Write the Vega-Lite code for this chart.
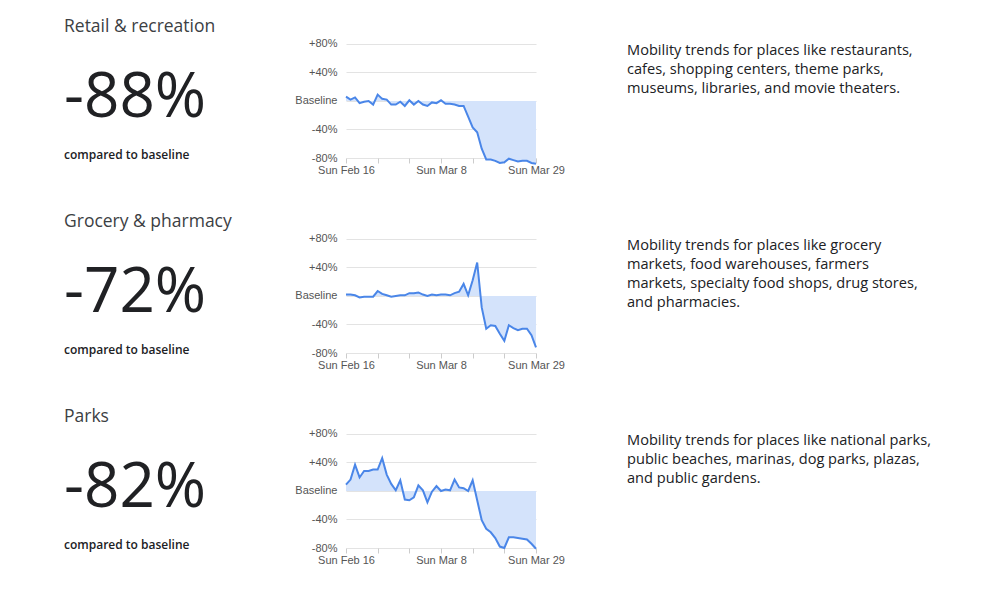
{
  "$schema": "https://vega.github.io/schema/vega-lite/v6.json",
  "background": "white",
  "padding": {"left": 64, "top": 8, "right": 10, "bottom": 10},
  "config": {"view": {"stroke": null}, "font": "Open Sans"},
  "datasets": {
    "summary": [
      {"category": "Retail & recreation", "part": "title", "text": "Retail & recreation"},
      {"category": "Retail & recreation", "part": "number", "text": "-88%"},
      {"category": "Retail & recreation", "part": "caption", "text": "compared to baseline"},
      {"category": "Grocery & pharmacy", "part": "title", "text": "Grocery & pharmacy"},
      {"category": "Grocery & pharmacy", "part": "number", "text": "-72%"},
      {"category": "Grocery & pharmacy", "part": "caption", "text": "compared to baseline"},
      {"category": "Parks", "part": "title", "text": "Parks"},
      {"category": "Parks", "part": "number", "text": "-82%"},
      {"category": "Parks", "part": "caption", "text": "compared to baseline"}
    ],
    "descriptions": [
      {"category": "Retail & recreation", "line": 1, "text": "Mobility trends for places like restaurants,"},
      {"category": "Retail & recreation", "line": 2, "text": "cafes, shopping centers, theme parks,"},
      {"category": "Retail & recreation", "line": 3, "text": "museums, libraries, and movie theaters."},
      {"category": "Grocery & pharmacy", "line": 1, "text": "Mobility trends for places like grocery"},
      {"category": "Grocery & pharmacy", "line": 2, "text": "markets, food warehouses, farmers"},
      {"category": "Grocery & pharmacy", "line": 3, "text": "markets, specialty food shops, drug stores,"},
      {"category": "Grocery & pharmacy", "line": 4, "text": "and pharmacies."},
      {"category": "Parks", "line": 1, "text": "Mobility trends for places like national parks,"},
      {"category": "Parks", "line": 2, "text": "public beaches, marinas, dog parks, plazas,"},
      {"category": "Parks", "line": 3, "text": "and public gardens."}
    ],
    "mobility": [
      {"category": "Retail & recreation", "date": "2020-02-16", "change": 6},
      {"category": "Retail & recreation", "date": "2020-02-17", "change": 2},
      {"category": "Retail & recreation", "date": "2020-02-18", "change": 5},
      {"category": "Retail & recreation", "date": "2020-02-19", "change": -3},
      {"category": "Retail & recreation", "date": "2020-02-20", "change": -1},
      {"category": "Retail & recreation", "date": "2020-02-21", "change": 0},
      {"category": "Retail & recreation", "date": "2020-02-22", "change": -5},
      {"category": "Retail & recreation", "date": "2020-02-23", "change": 9},
      {"category": "Retail & recreation", "date": "2020-02-24", "change": 3},
      {"category": "Retail & recreation", "date": "2020-02-25", "change": 2},
      {"category": "Retail & recreation", "date": "2020-02-26", "change": -5},
      {"category": "Retail & recreation", "date": "2020-02-27", "change": -5},
      {"category": "Retail & recreation", "date": "2020-02-28", "change": -1},
      {"category": "Retail & recreation", "date": "2020-02-29", "change": -7},
      {"category": "Retail & recreation", "date": "2020-03-01", "change": 1},
      {"category": "Retail & recreation", "date": "2020-03-02", "change": -5},
      {"category": "Retail & recreation", "date": "2020-03-03", "change": 0},
      {"category": "Retail & recreation", "date": "2020-03-04", "change": -5},
      {"category": "Retail & recreation", "date": "2020-03-05", "change": -7},
      {"category": "Retail & recreation", "date": "2020-03-06", "change": -2},
      {"category": "Retail & recreation", "date": "2020-03-07", "change": -3},
      {"category": "Retail & recreation", "date": "2020-03-08", "change": 1},
      {"category": "Retail & recreation", "date": "2020-03-09", "change": -4},
      {"category": "Retail & recreation", "date": "2020-03-10", "change": -4},
      {"category": "Retail & recreation", "date": "2020-03-11", "change": -5},
      {"category": "Retail & recreation", "date": "2020-03-12", "change": -7},
      {"category": "Retail & recreation", "date": "2020-03-13", "change": -7},
      {"category": "Retail & recreation", "date": "2020-03-14", "change": -22},
      {"category": "Retail & recreation", "date": "2020-03-15", "change": -37},
      {"category": "Retail & recreation", "date": "2020-03-16", "change": -44},
      {"category": "Retail & recreation", "date": "2020-03-17", "change": -67},
      {"category": "Retail & recreation", "date": "2020-03-18", "change": -82},
      {"category": "Retail & recreation", "date": "2020-03-19", "change": -82},
      {"category": "Retail & recreation", "date": "2020-03-20", "change": -84},
      {"category": "Retail & recreation", "date": "2020-03-21", "change": -87},
      {"category": "Retail & recreation", "date": "2020-03-22", "change": -86},
      {"category": "Retail & recreation", "date": "2020-03-23", "change": -81},
      {"category": "Retail & recreation", "date": "2020-03-24", "change": -83},
      {"category": "Retail & recreation", "date": "2020-03-25", "change": -85},
      {"category": "Retail & recreation", "date": "2020-03-26", "change": -84},
      {"category": "Retail & recreation", "date": "2020-03-27", "change": -84},
      {"category": "Retail & recreation", "date": "2020-03-28", "change": -87},
      {"category": "Retail & recreation", "date": "2020-03-29", "change": -88},
      {"category": "Grocery & pharmacy", "date": "2020-02-16", "change": 2},
      {"category": "Grocery & pharmacy", "date": "2020-02-17", "change": 2},
      {"category": "Grocery & pharmacy", "date": "2020-02-18", "change": 1},
      {"category": "Grocery & pharmacy", "date": "2020-02-19", "change": -2},
      {"category": "Grocery & pharmacy", "date": "2020-02-20", "change": -1},
      {"category": "Grocery & pharmacy", "date": "2020-02-21", "change": -1},
      {"category": "Grocery & pharmacy", "date": "2020-02-22", "change": -1},
      {"category": "Grocery & pharmacy", "date": "2020-02-23", "change": 7},
      {"category": "Grocery & pharmacy", "date": "2020-02-24", "change": 3},
      {"category": "Grocery & pharmacy", "date": "2020-02-25", "change": 1},
      {"category": "Grocery & pharmacy", "date": "2020-02-26", "change": -1},
      {"category": "Grocery & pharmacy", "date": "2020-02-27", "change": 0},
      {"category": "Grocery & pharmacy", "date": "2020-02-28", "change": 1},
      {"category": "Grocery & pharmacy", "date": "2020-02-29", "change": 1},
      {"category": "Grocery & pharmacy", "date": "2020-03-01", "change": 4},
      {"category": "Grocery & pharmacy", "date": "2020-03-02", "change": 4},
      {"category": "Grocery & pharmacy", "date": "2020-03-03", "change": 5},
      {"category": "Grocery & pharmacy", "date": "2020-03-04", "change": 2},
      {"category": "Grocery & pharmacy", "date": "2020-03-05", "change": 0},
      {"category": "Grocery & pharmacy", "date": "2020-03-06", "change": 2},
      {"category": "Grocery & pharmacy", "date": "2020-03-07", "change": 1},
      {"category": "Grocery & pharmacy", "date": "2020-03-08", "change": 2},
      {"category": "Grocery & pharmacy", "date": "2020-03-09", "change": 2},
      {"category": "Grocery & pharmacy", "date": "2020-03-10", "change": 1},
      {"category": "Grocery & pharmacy", "date": "2020-03-11", "change": 4},
      {"category": "Grocery & pharmacy", "date": "2020-03-12", "change": 6},
      {"category": "Grocery & pharmacy", "date": "2020-03-13", "change": 17},
      {"category": "Grocery & pharmacy", "date": "2020-03-14", "change": 1},
      {"category": "Grocery & pharmacy", "date": "2020-03-15", "change": 22},
      {"category": "Grocery & pharmacy", "date": "2020-03-16", "change": 47},
      {"category": "Grocery & pharmacy", "date": "2020-03-17", "change": -16},
      {"category": "Grocery & pharmacy", "date": "2020-03-18", "change": -46},
      {"category": "Grocery & pharmacy", "date": "2020-03-19", "change": -41},
      {"category": "Grocery & pharmacy", "date": "2020-03-20", "change": -42},
      {"category": "Grocery & pharmacy", "date": "2020-03-21", "change": -53},
      {"category": "Grocery & pharmacy", "date": "2020-03-22", "change": -63},
      {"category": "Grocery & pharmacy", "date": "2020-03-23", "change": -41},
      {"category": "Grocery & pharmacy", "date": "2020-03-24", "change": -45},
      {"category": "Grocery & pharmacy", "date": "2020-03-25", "change": -48},
      {"category": "Grocery & pharmacy", "date": "2020-03-26", "change": -46},
      {"category": "Grocery & pharmacy", "date": "2020-03-27", "change": -46},
      {"category": "Grocery & pharmacy", "date": "2020-03-28", "change": -55},
      {"category": "Grocery & pharmacy", "date": "2020-03-29", "change": -72},
      {"category": "Parks", "date": "2020-02-16", "change": 9},
      {"category": "Parks", "date": "2020-02-17", "change": 16},
      {"category": "Parks", "date": "2020-02-18", "change": 37},
      {"category": "Parks", "date": "2020-02-19", "change": 19},
      {"category": "Parks", "date": "2020-02-20", "change": 28},
      {"category": "Parks", "date": "2020-02-21", "change": 28},
      {"category": "Parks", "date": "2020-02-22", "change": 30},
      {"category": "Parks", "date": "2020-02-23", "change": 30},
      {"category": "Parks", "date": "2020-02-24", "change": 46},
      {"category": "Parks", "date": "2020-02-25", "change": 23},
      {"category": "Parks", "date": "2020-02-26", "change": 10},
      {"category": "Parks", "date": "2020-02-27", "change": 1},
      {"category": "Parks", "date": "2020-02-28", "change": 15},
      {"category": "Parks", "date": "2020-02-29", "change": -12},
      {"category": "Parks", "date": "2020-03-01", "change": -13},
      {"category": "Parks", "date": "2020-03-02", "change": -9},
      {"category": "Parks", "date": "2020-03-03", "change": 8},
      {"category": "Parks", "date": "2020-03-04", "change": 1},
      {"category": "Parks", "date": "2020-03-05", "change": -16},
      {"category": "Parks", "date": "2020-03-06", "change": -1},
      {"category": "Parks", "date": "2020-03-07", "change": 7},
      {"category": "Parks", "date": "2020-03-08", "change": 0},
      {"category": "Parks", "date": "2020-03-09", "change": 2},
      {"category": "Parks", "date": "2020-03-10", "change": 1},
      {"category": "Parks", "date": "2020-03-11", "change": 16},
      {"category": "Parks", "date": "2020-03-12", "change": 5},
      {"category": "Parks", "date": "2020-03-13", "change": 4},
      {"category": "Parks", "date": "2020-03-14", "change": 0},
      {"category": "Parks", "date": "2020-03-15", "change": 15},
      {"category": "Parks", "date": "2020-03-16", "change": -13},
      {"category": "Parks", "date": "2020-03-17", "change": -41},
      {"category": "Parks", "date": "2020-03-18", "change": -53},
      {"category": "Parks", "date": "2020-03-19", "change": -58},
      {"category": "Parks", "date": "2020-03-20", "change": -66},
      {"category": "Parks", "date": "2020-03-21", "change": -78},
      {"category": "Parks", "date": "2020-03-22", "change": -80},
      {"category": "Parks", "date": "2020-03-23", "change": -65},
      {"category": "Parks", "date": "2020-03-24", "change": -65},
      {"category": "Parks", "date": "2020-03-25", "change": -66},
      {"category": "Parks", "date": "2020-03-26", "change": -67},
      {"category": "Parks", "date": "2020-03-27", "change": -68},
      {"category": "Parks", "date": "2020-03-28", "change": -74},
      {"category": "Parks", "date": "2020-03-29", "change": -81}
    ]
  },
  "spacing": 62,
  "bounds": "full",
  "hconcat": [
    {
      "data": {"name": "summary"},
      "facet": {"row": {"field": "category", "type": "nominal", "header": null, "sort": ["Retail & recreation", "Grocery & pharmacy", "Parks"]}},
      "spacing": 45,
      "bounds": "flush",
      "spec": {
        "width": 158,
        "height": 150,
        "encoding": {
          "x": {"value": 0},
          "y": {"field": "part", "type": "nominal", "axis": null, "scale": {"type": "point", "domain": ["title", "number", "caption"], "range": [24, 151], "padding": 0}},
          "text": {"field": "text", "type": "nominal"}
        },
        "layer": [
          {"transform": [{"filter": "datum.part == 'title'"}], "mark": {"type": "text", "align": "left", "baseline": "alphabetic", "fontSize": 17.5, "color": "#3c4043"}},
          {"transform": [{"filter": "datum.part == 'number'"}], "mark": {"type": "text", "align": "left", "baseline": "alphabetic", "fontSize": 62, "color": "#202124", "dy": 21}},
          {"transform": [{"filter": "datum.part == 'caption'"}], "mark": {"type": "text", "align": "left", "baseline": "alphabetic", "fontSize": 12, "fontWeight": 600, "color": "#202124"}}
        ]
      }
    },
    {
      "data": {"name": "mobility"},
      "facet": {"row": {"field": "category", "type": "nominal", "header": null, "sort": ["Retail & recreation", "Grocery & pharmacy", "Parks"]}},
      "spacing": 45,
      "bounds": "flush",
      "resolve": {"axis": {"x": "independent", "y": "independent"}},
      "spec": {
        "width": 190,
        "height": 150,
        "encoding": {
          "x": {
            "field": "date", "type": "temporal",
            "scale": {"type": "utc", "nice": false, "domain": [{"year": 2020, "month": 2, "date": 16, "utc": true}, {"year": 2020, "month": 3, "date": 29, "utc": true}]},
            "axis": {
              "title": null, "grid": false, "domain": false, "ticks": true, "tickSize": 5, "tickColor": "#cccccc",
              "values": [
                {"year": 2020, "month": 2, "date": 16, "utc": true},
                {"year": 2020, "month": 2, "date": 23, "utc": true},
                {"year": 2020, "month": 3, "date": 1, "utc": true},
                {"year": 2020, "month": 3, "date": 8, "utc": true},
                {"year": 2020, "month": 3, "date": 15, "utc": true},
                {"year": 2020, "month": 3, "date": 22, "utc": true},
                {"year": 2020, "month": 3, "date": 29, "utc": true}
              ],
              "labelExpr": "(utcdate(datum.value) == 16 || utcdate(datum.value) == 8 || utcdate(datum.value) == 29) ? 'Sun ' + utcFormat(datum.value, '%b %-d') : ''",
              "labelFlush": false, "labelOverlap": false, "labelPadding": 1,
              "labelFont": "Liberation Sans", "labelFontSize": 11, "labelColor": "#555555"
            }
          },
          "y": {
            "field": "change", "type": "quantitative",
            "scale": {"domain": [-80, 130.5], "nice": false, "zero": false},
            "axis": {
              "title": null, "grid": true, "gridColor": "#e3e3e3", "domain": false, "ticks": false,
              "values": [-80, -40, 0, 40, 80],
              "labelExpr": "datum.value == 0 ? 'Baseline' : (datum.value > 0 ? '+' : '') + datum.value + '%'",
              "labelPadding": 9, "labelFont": "Liberation Sans", "labelFontSize": 11, "labelColor": "#555555"
            }
          }
        },
        "layer": [
          {"mark": {"type": "area", "color": "#d4e3fb", "opacity": 1}, "encoding": {"y2": {"datum": 0}}},
          {"mark": {"type": "line", "color": "#4a86e8", "strokeWidth": 2}}
        ]
      }
    },
    {
      "data": {"name": "descriptions"},
      "facet": {"row": {"field": "category", "type": "nominal", "header": null, "sort": ["Retail & recreation", "Grocery & pharmacy", "Parks"]}},
      "spacing": 45,
      "bounds": "flush",
      "spec": {
        "width": 300,
        "height": 150,
        "mark": {"type": "text", "align": "left", "baseline": "alphabetic", "fontSize": 14.6, "color": "#202124"},
        "encoding": {
          "x": {"value": 0},
          "y": {"field": "line", "type": "ordinal", "axis": null, "scale": {"type": "point", "domain": [1, 2, 3, 4], "range": [47, 104], "padding": 0}},
          "text": {"field": "text", "type": "nominal"}
        }
      }
    }
  ]
}
